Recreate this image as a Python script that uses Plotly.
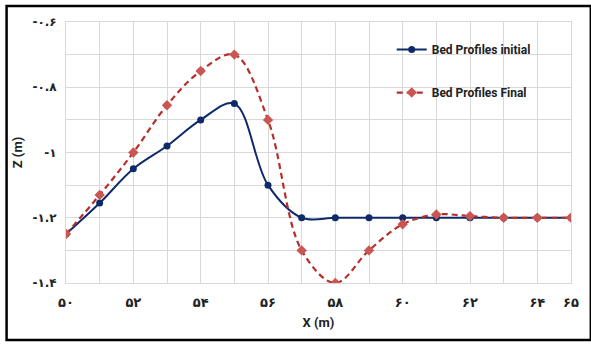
import plotly.graph_objects as go

# Station along the channel (m)
x_m = [50, 51, 52, 53, 54, 55, 56, 57, 58, 59, 60, 61, 62, 63, 64, 65]

# Bed elevation Z (m)
z_initial = [-1.25, -1.155, -1.05, -0.98, -0.90, -0.85, -1.10, -1.20,
             -1.20, -1.20, -1.20, -1.20, -1.20, -1.20, -1.20, -1.20]
z_final = [-1.25, -1.13, -1.00, -0.855, -0.75, -0.70, -0.90, -1.30,
           -1.40, -1.30, -1.22, -1.19, -1.195, -1.20, -1.20, -1.20]

# Persian-digit tick labels
x_tick_vals = [50, 52, 54, 56, 58, 60, 62, 64, 65]
x_tick_text = ["۵۰", "۵۲", "۵۴", "۵۶", "۵۸", "۶۰", "۶۲", "۶۴", "۶۵"]
y_tick_vals = [-1.4, -1.2, -1.0, -0.8, -0.6]
y_tick_text = ["-۱.۴", "-۱.۲", "-۱", "-۰.۸", "-۰.۶"]

NAVY = "#0f2a6b"
RED_LINE = "#b5302b"
RED_MARK = "#c95650"
GRID = "#d9d9d9"
LEGEND_FONT = "Liberation Sans Narrow, Arial Narrow, Roboto, sans-serif"

fig = go.Figure()
fig.add_trace(go.Scatter(
    x=x_m, y=z_initial, name="Bed Profiles initial", mode="lines+markers",
    line=dict(color=NAVY, width=2, shape="spline", smoothing=1),
    marker=dict(symbol="circle", size=7, color=NAVY),
    legendgroup="a",
))
fig.add_trace(go.Scatter(
    x=x_m, y=z_final, name="Bed Profiles Final", mode="lines+markers",
    line=dict(color=RED_LINE, width=2.2, dash="6px,4px", shape="spline", smoothing=1),
    marker=dict(symbol="diamond", size=8, color=RED_MARK),
    legendgroup="b",
))

L, R, T, B = 66, 15, 22, 62
W, H = 591, 345
pw, ph = W - L - R, H - T - B

# Outer frame around the chart
fig.add_shape(
    type="rect", xref="paper", yref="paper",
    x0=(6 - L) / pw, x1=(W + 5 - L) / pw,
    y0=(H - B - 340) / ph, y1=1 + (T - 6) / ph,
    line=dict(color="black", width=2.5), fillcolor="rgba(0,0,0,0)", layer="above",
)

fig.update_layout(
    width=W, height=H,
    margin=dict(l=L, r=R, t=T, b=B),
    paper_bgcolor="white", plot_bgcolor="white",
    showlegend=True,
    legend=dict(
        x=0.645, y=0.95, xanchor="left", yanchor="top",
        font=dict(family=LEGEND_FONT, size=12, color="#222222", weight="bold"),
        bgcolor="rgba(0,0,0,0)", tracegroupgap=24,
    ),
    font=dict(family="DejaVu Sans", color="#222222"),
)

fig.update_xaxes(
    range=[50, 65], tickvals=x_tick_vals, ticktext=x_tick_text,
    showgrid=True, gridcolor=GRID, gridwidth=1,
    minor=dict(dtick=1, showgrid=True, gridcolor=GRID, gridwidth=1),
    showline=True, linecolor=GRID, linewidth=1, mirror=True,
    zeroline=False, ticks="", ticklabelstandoff=7,
    tickfont=dict(family="DejaVu Sans", size=13, color="#222222", weight="bold"),
    title=dict(text="X (m)", standoff=9,
               font=dict(family=LEGEND_FONT, size=13, color="#222222", weight="bold")),
)
fig.update_yaxes(
    range=[-1.4, -0.6], tickvals=y_tick_vals, ticktext=y_tick_text,
    showgrid=True, gridcolor=GRID, gridwidth=1,
    minor=dict(dtick=0.1, tick0=-1.4, showgrid=True, gridcolor=GRID, gridwidth=1),
    showline=True, linecolor=GRID, linewidth=1, mirror=True,
    zeroline=False, ticks="", ticklabelstandoff=6,
    tickfont=dict(family="DejaVu Sans", size=12, color="#222222", weight="bold"),
    title=dict(text="Z (m)", standoff=6,
               font=dict(family=LEGEND_FONT, size=13, color="#222222", weight="bold")),
)

fig.write_html("out.html")
